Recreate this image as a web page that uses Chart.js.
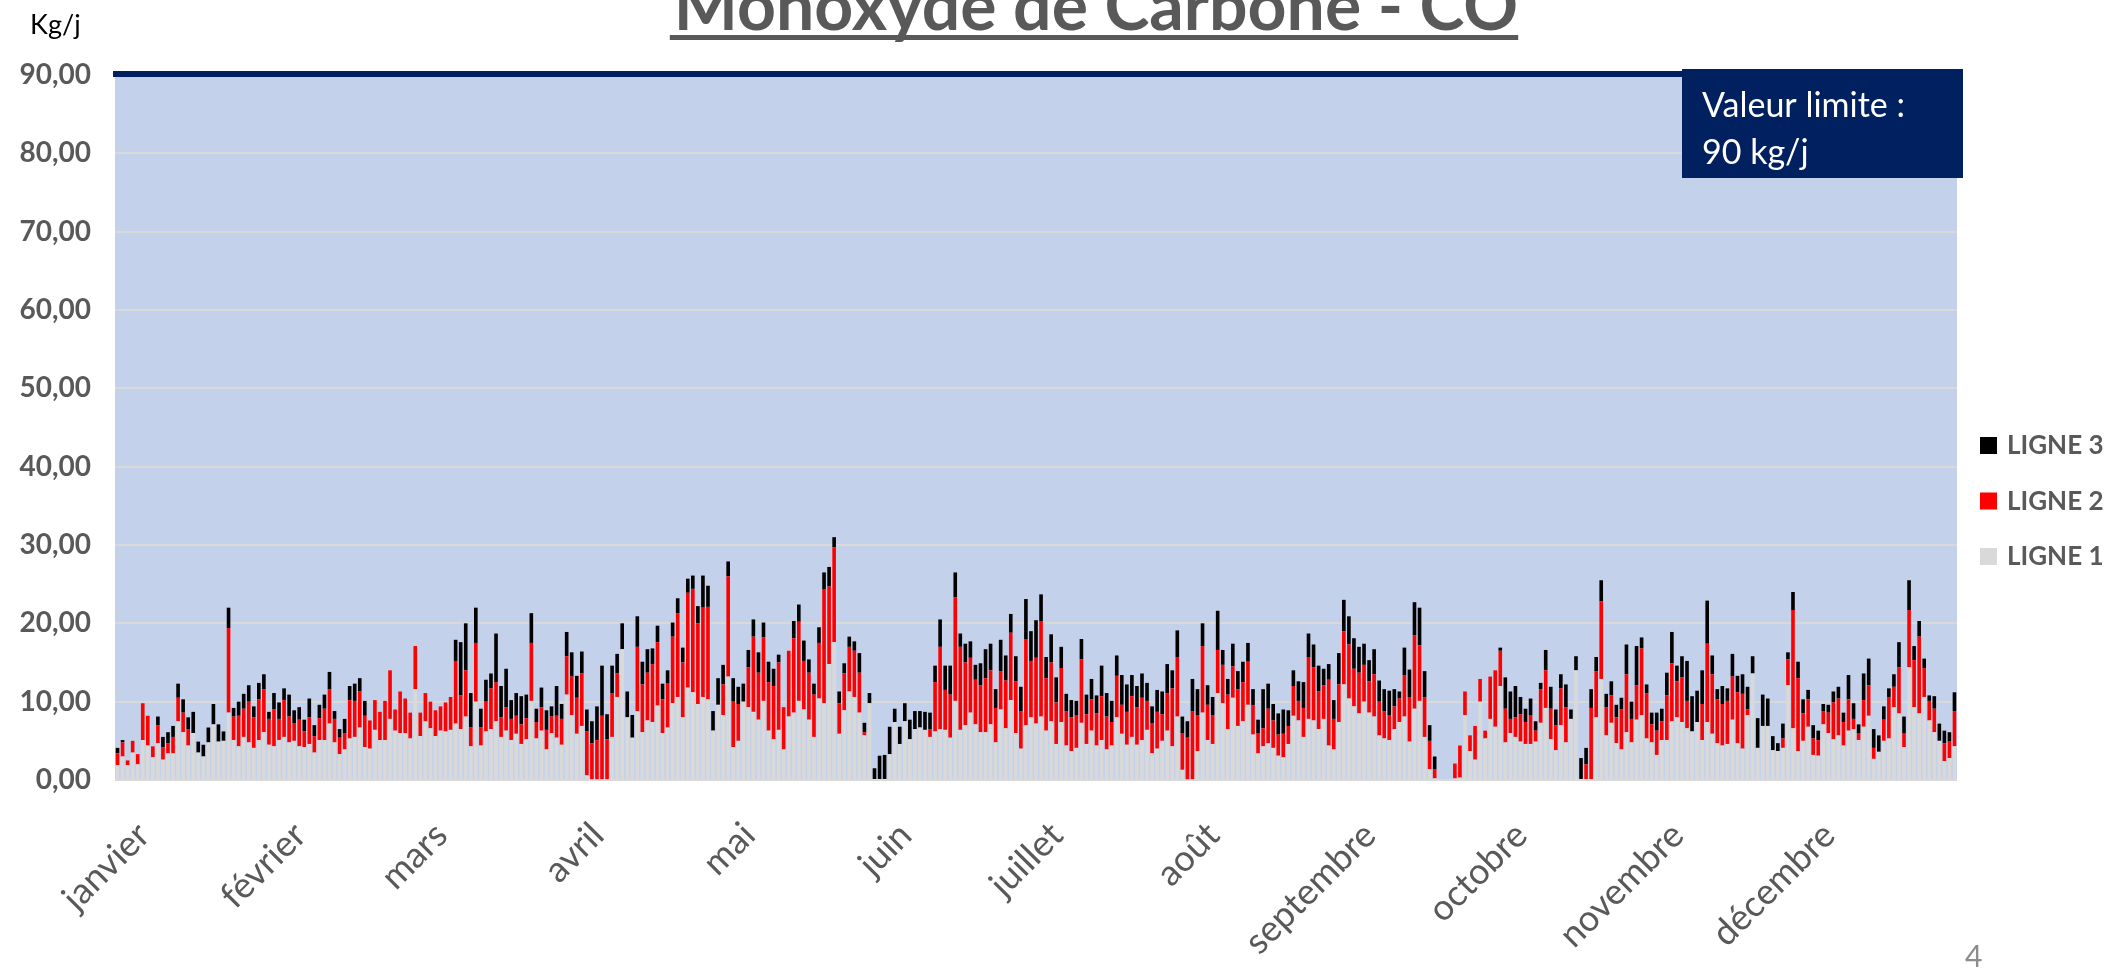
<!DOCTYPE html>
<html>
<head>
<meta charset="utf-8">
<title>Monoxyde de Carbone - CO</title>
<script src="https://cdn.jsdelivr.net/npm/chart.js@4.4.1/dist/chart.umd.min.js"></script>
<style>
    html, body { margin: 0; padding: 0; background: #ffffff; }
    #wrap { position: relative; width: 2126px; height: 973px; }
</style>
</head>
<body>
<div id="wrap"><canvas id="co_chart" width="2126" height="973"></canvas></div>
<script>
var chartTitle = 'Monoxyde de Carbone - CO';
var unitLabel = 'Kg/j';
var limitValue = 90;
var limitText = ['Valeur limite :', '90 kg/j'];
var pageNumber = '4';

var monthNames = ['janvier', 'février', 'mars', 'avril', 'mai', 'juin', 'juillet', 'août', 'septembre', 'octobre', 'novembre', 'décembre'];
var monthDays = [31, 28, 31, 30, 31, 30, 31, 31, 30, 31, 30, 31];

var seriesNames = ['LIGNE 1', 'LIGNE 2', 'LIGNE 3'];
var seriesColors = ['#D9D9D9', '#FF0000', '#000000'];

// kg/j par jour
var ligne1 = [
    1.9, 3.0, 1.9, 3.5, 2.0, 5.1, 4.4, 2.9, 4.7, 2.6,
    3.4, 3.4, 7.5, 6.1, 4.4, 6.0, 3.5, 3.0, 4.8, 7.1,
    4.9, 5.0, 8.6, 5.1, 4.3, 5.5, 4.8, 4.1, 5.1, 6.1,
    4.5, 4.3, 5.1, 5.5, 4.8, 5.0, 4.3, 4.2, 4.6, 3.5,
    5.1, 5.1, 7.2, 4.8, 3.3, 3.9, 5.3, 5.5, 6.7, 4.2,
    4.0, 6.4, 5.1, 5.1, 7.8, 6.3, 6.0, 6.0, 5.3, 11.6,
    5.6, 7.5, 6.6, 5.6, 6.3, 6.2, 6.4, 7.2, 6.5, 8.1,
    4.3, 10.0, 4.4, 6.2, 6.5, 7.5, 5.5, 6.3, 5.1, 5.9,
    4.6, 5.2, 10.1, 5.3, 6.3, 3.9, 6.0, 5.4, 4.5, 10.9,
    8.3, 5.9, 6.9, 0.6, 0.1, 0.1, 0.1, 0.1, 5.5, 10.6,
    16.7, 8.0, 5.4, 8.8, 6.1, 7.6, 7.4, 9.5, 6.0, 6.7,
    9.8, 10.6, 8.0, 11.8, 11.2, 9.7, 10.6, 10.3, 6.3, 9.6,
    8.3, 13.2, 4.2, 5.0, 10.0, 9.3, 8.7, 7.7, 10.1, 6.3,
    5.2, 6.4, 3.9, 8.1, 8.6, 10.1, 9.0, 7.7, 5.5, 10.4,
    9.8, 14.8, 17.6, 5.9, 8.9, 11.3, 10.6, 8.6, 5.7, 9.8,
    0, 0, 0, 3.3, 7.4, 4.6, 7.5, 5.2, 6.5, 6.7,
    6.4, 5.5, 6.2, 6.5, 6.4, 5.4, 10.1, 6.4, 7.0, 8.6,
    7.1, 6.1, 6.1, 7.1, 4.8, 9.0, 6.6, 10.2, 6.0, 4.0,
    7.0, 8.0, 7.2, 8.1, 6.3, 7.5, 4.6, 7.4, 4.4, 3.7,
    4.1, 7.3, 4.6, 6.3, 4.4, 5.1, 3.9, 4.4, 8.0, 5.9,
    4.5, 5.5, 4.5, 5.1, 6.4, 3.4, 4.0, 5.0, 6.3, 4.3,
    8.1, 1.3, 0.1, 0.1, 3.7, 8.6, 5.1, 4.6, 11.1, 9.8,
    6.5, 10.5, 6.9, 7.5, 9.6, 5.8, 3.4, 4.3, 4.7, 4.1,
    3.1, 2.9, 4.6, 8.2, 7.6, 5.5, 7.8, 7.6, 6.5, 7.8,
    4.4, 3.9, 7.4, 12.2, 10.4, 9.4, 8.5, 10.0, 8.6, 8.1,
    5.7, 5.3, 5.1, 6.5, 7.4, 8.1, 4.9, 9.1, 10.1, 5.5,
    1.4, 0.2, 0, 0, 0, 0.2, 0.3, 8.3, 3.7, 2.6,
    10.0, 5.3, 7.8, 6.8, 12.0, 4.8, 6.0, 5.5, 4.9, 4.6,
    4.6, 4.9, 7.3, 9.2, 5.2, 3.8, 7.0, 4.8, 7.8, 14.0,
    0, 0, 0, 8.0, 12.9, 5.7, 7.3, 4.7, 3.9, 6.1,
    4.8, 7.7, 8.3, 5.3, 4.8, 3.2, 5.1, 5.1, 7.5, 8.0,
    7.4, 6.6, 6.2, 7.4, 5.1, 7.4, 5.9, 4.7, 4.4, 4.6,
    7.7, 4.7, 4.0, 8.3, 13.6, 4.1, 6.9, 6.9, 3.8, 3.7,
    4.1, 12.1, 6.6, 3.7, 5.0, 6.8, 3.2, 3.1, 7.1, 6.0,
    5.2, 5.7, 4.4, 6.3, 6.5, 5.1, 6.8, 8.2, 2.7, 3.6,
    5.0, 5.3, 9.3, 8.5, 4.2, 14.4, 9.3, 8.5, 10.6, 7.6,
    6.1, 5.0, 2.4, 2.8, 4.3
];

var ligne2 = [
    1.5, 1.8, 0.6, 1.5, 1.3, 4.7, 3.8, 1.4, 2.3, 1.6,
    1.3, 2.1, 3.0, 2.5, 2.1, 0, 0, 0, 0, 0,
    0, 0, 10.8, 3.0, 3.9, 3.6, 5.2, 3.9, 5.2, 5.5,
    3.3, 4.7, 2.7, 4.7, 3.3, 2.2, 3.4, 2.0, 3.4, 2.1,
    2.8, 4.0, 4.4, 3.0, 2.1, 2.1, 4.9, 4.6, 4.6, 4.0,
    3.6, 3.8, 3.6, 5.0, 6.2, 2.7, 5.3, 4.4, 3.3, 5.5,
    3.0, 3.6, 3.4, 3.3, 3.1, 3.7, 4.2, 8.0, 4.3, 5.9,
    2.4, 7.5, 2.3, 3.8, 5.2, 5.0, 2.5, 3.0, 2.7, 2.3,
    2.5, 2.7, 7.4, 2.1, 3.0, 2.5, 2.1, 2.8, 3.3, 4.9,
    4.9, 4.6, 6.7, 5.6, 4.6, 5.0, 8.1, 5.1, 5.6, 3.0,
    0, 0, 0, 8.2, 6.1, 6.1, 7.4, 8.1, 4.3, 5.6,
    8.5, 10.7, 7.0, 12.1, 13.2, 10.3, 11.4, 11.8, 0, 0,
    3.9, 12.8, 5.8, 4.7, 0, 5.1, 9.6, 6.0, 8.1, 6.2,
    6.8, 8.6, 5.4, 8.4, 9.5, 10.1, 6.2, 6.0, 5.4, 7.1,
    14.5, 9.9, 12.1, 3.9, 4.7, 5.7, 5.9, 5.1, 0.4, 0,
    0, 0, 0, 0, 0, 0, 0, 0, 0, 0,
    0, 1.0, 6.3, 10.5, 5.1, 5.5, 13.2, 10.6, 8.0, 7.0,
    5.7, 6.0, 6.9, 6.9, 4.4, 4.9, 6.1, 8.6, 6.6, 4.8,
    11.0, 7.2, 8.4, 12.2, 6.7, 7.5, 5.3, 6.9, 4.4, 4.3,
    4.2, 8.1, 3.8, 4.0, 4.1, 5.6, 4.2, 3.0, 5.3, 3.7,
    4.2, 5.2, 4.8, 5.4, 3.7, 3.8, 4.7, 3.4, 4.8, 7.4,
    7.6, 4.7, 5.3, 8.7, 4.6, 8.5, 4.5, 3.7, 5.5, 4.9,
    4.4, 4.0, 4.7, 5.0, 5.5, 3.7, 2.6, 2.3, 4.4, 3.5,
    2.7, 3.0, 2.3, 3.8, 2.5, 3.7, 7.9, 6.8, 4.8, 4.3,
    8.4, 3.9, 4.8, 6.8, 6.9, 4.8, 5.2, 4.7, 4.0, 5.4,
    4.3, 3.5, 3.2, 2.9, 3.0, 5.3, 5.7, 9.4, 7.1, 5.1,
    3.6, 1.2, 0, 0, 0, 1.9, 4.1, 3.0, 2.0, 4.3,
    2.9, 1.0, 5.4, 7.2, 4.5, 4.3, 1.8, 2.5, 3.5, 2.8,
    3.7, 1.4, 4.3, 4.8, 3.9, 3.2, 4.7, 4.5, 0, 0,
    0, 2.0, 9.2, 5.9, 9.9, 3.6, 3.5, 3.3, 5.1, 7.4,
    3.0, 4.4, 8.5, 5.8, 2.3, 3.1, 2.4, 5.7, 7.4, 4.6,
    5.7, 3.5, 0, 0, 4.6, 10.0, 7.6, 5.6, 5.3, 5.5,
    5.5, 6.5, 7.0, 0.7, 0, 0, 0, 0, 0, 0,
    1.2, 3.3, 15.1, 9.3, 3.5, 3.5, 2.1, 2.0, 1.7, 2.6,
    4.7, 4.7, 3.0, 4.0, 1.3, 0.9, 3.4, 3.9, 1.4, 0,
    2.7, 5.3, 2.6, 5.9, 1.8, 7.3, 6.0, 9.8, 3.7, 2.5,
    3.0, 0, 2.3, 2.1, 4.5
];

var ligne3 = [
    0.7, 0.3, 0, 0, 0, 0, 0, 0, 1.1, 1.3,
    1.4, 1.4, 1.8, 1.7, 1.5, 2.7, 1.4, 1.5, 1.9, 2.6,
    2.2, 1.2, 2.6, 1.1, 1.8, 1.9, 2.1, 1.4, 2.1, 1.9,
    0.9, 2.1, 2.1, 1.5, 2.8, 1.7, 1.6, 1.5, 2.4, 1.4,
    1.7, 1.8, 2.2, 1.0, 1.1, 1.8, 1.8, 2.2, 1.7, 1.9,
    0, 0, 0, 0, 0, 0, 0, 0, 0, 0,
    0, 0, 0, 0, 0, 0, 0, 2.7, 6.8, 6.0,
    4.4, 4.5, 2.4, 2.8, 1.9, 6.2, 4.0, 4.9, 2.4, 2.9,
    3.6, 3.0, 3.8, 1.7, 2.5, 2.5, 1.3, 3.8, 1.9, 3.1,
    3.1, 2.8, 2.8, 2.8, 2.8, 4.3, 6.4, 3.2, 3.5, 2.5,
    3.3, 3.3, 2.9, 3.9, 2.9, 3.0, 2.0, 2.1, 2.0, 1.7,
    1.8, 1.9, 1.9, 1.8, 1.7, 2.2, 4.1, 2.7, 2.5, 3.4,
    2.5, 1.9, 3.0, 2.2, 2.3, 2.2, 2.2, 2.6, 1.9, 2.6,
    2.2, 1.0, 0, 0, 2.2, 2.2, 2.6, 1.7, 1.4, 2.0,
    2.2, 2.5, 1.3, 1.5, 1.3, 1.3, 1.2, 2.5, 1.2, 1.3,
    1.5, 3.1, 3.2, 3.5, 1.7, 2.2, 2.3, 2.5, 2.3, 2.1,
    2.3, 2.1, 2.1, 3.5, 3.1, 3.7, 3.2, 1.7, 2.4, 2.1,
    1.9, 2.8, 3.7, 3.4, 2.4, 4.0, 3.2, 2.4, 3.2, 3.1,
    5.1, 3.8, 4.8, 3.4, 2.7, 3.6, 3.2, 2.7, 2.2, 2.2,
    1.8, 2.6, 2.5, 2.6, 2.3, 3.9, 3.0, 2.7, 2.6, 3.8,
    3.5, 2.7, 2.7, 3.1, 2.3, 2.2, 2.8, 2.9, 3.7, 2.3,
    3.4, 2.1, 2.1, 4.1, 3.3, 2.9, 2.5, 2.3, 5.0, 1.9,
    2.0, 2.9, 2.3, 2.6, 2.4, 2.1, 1.7, 5.0, 3.2, 2.1,
    2.7, 3.1, 2.0, 2.0, 2.5, 3.3, 3.0, 2.9, 3.3, 2.1,
    2.0, 2.4, 4.0, 4.0, 3.6, 3.9, 3.3, 2.7, 2.7, 3.2,
    2.7, 2.8, 3.1, 2.2, 0.9, 3.5, 3.5, 4.2, 4.8, 3.3,
    2.0, 1.6, 0, 0, 0, 0, 0, 0, 0, 0,
    0, 0, 0, 0, 0.4, 4.0, 3.5, 4.0, 2.2, 1.7,
    2.1, 1.2, 0.8, 2.6, 2.8, 2.0, 1.8, 2.9, 1.2, 1.8,
    2.8, 2.1, 2.4, 1.8, 2.7, 1.7, 1.8, 1.6, 1.5, 3.8,
    2.2, 5.0, 1.4, 1.1, 1.5, 2.3, 1.6, 2.9, 4.0, 2.0,
    2.7, 5.1, 4.5, 4.0, 4.3, 5.5, 2.4, 1.3, 2.3, 1.6,
    2.9, 2.1, 2.5, 2.9, 2.2, 3.8, 4.0, 3.5, 1.8, 1.0,
    1.9, 0.9, 2.3, 2.1, 1.8, 1.2, 1.7, 1.2, 0.9, 1.0,
    1.4, 1.5, 1.2, 3.1, 2.0, 1.1, 3.4, 3.4, 2.4, 2.1,
    1.7, 1.1, 1.6, 3.2, 2.1, 3.8, 1.8, 2.0, 1.2, 0.7,
    1.6, 2.2, 1.6, 1.2, 2.4
];

var dayLabels = [];
var tickText = [];
monthNames.forEach(function (name, m)
{
    for (var d = 1; d <= monthDays[m]; d++)
    {
        dayLabels.push(d + ' ' + name);
        tickText.push(d === 1 ? name : '');
    }
});

var grey_text = '#595959';
var navy = '#002060';

var decor = {
    id: 'decor',
    beforeDraw: function (chart)
    {
        var ctx = chart.ctx, a = chart.chartArea;
        ctx.save();
        ctx.fillStyle = '#C3D1EB';
        ctx.fillRect(a.left, a.top, a.right - a.left, a.bottom - a.top);
        ctx.restore();
    },
    afterDraw: function (chart)
    {
        var ctx = chart.ctx, a = chart.chartArea;
        var yLim = chart.scales.y.getPixelForValue(limitValue);
        ctx.save();

        // ligne de la valeur limite
        ctx.fillStyle = navy;
        ctx.fillRect(a.left - 2, yLim - 4, a.right - a.left + 2, 6);

        // cartouche
        var bx = a.right - 275, by = yLim - 6;
        ctx.fillRect(bx, by, 281, 109);
        ctx.fillStyle = '#ffffff';
        ctx.font = '34px Lato';
        ctx.textAlign = 'left';
        ctx.textBaseline = 'alphabetic';
        ctx.fillText(limitText[0], bx + 20, by + 48);
        ctx.fillText(limitText[1], bx + 20, by + 95);

        // légende
        ctx.font = 'bold 26px Lato';
        ctx.textBaseline = 'middle';
        for (var i = 0; i < 3; i++)
        {
            var k = 2 - i;
            var cy = 446 + i * 55.5;
            ctx.fillStyle = seriesColors[k];
            ctx.fillRect(a.right + 23, cy - 9, 17, 17);
            ctx.fillStyle = grey_text;
            ctx.fillText(seriesNames[k], a.right + 50, cy);
        }

        // titre coupé en haut
        ctx.font = 'bold 66px Lato';
        var w = ctx.measureText(chartTitle).width;
        var size = 66 * 845 / w;
        ctx.font = 'bold ' + size.toFixed(1) + 'px Lato';
        w = ctx.measureText(chartTitle).width;
        var tx = 1096 - w / 2;
        ctx.fillStyle = grey_text;
        ctx.textBaseline = 'alphabetic';
        ctx.fillText(chartTitle, tx, 30);
        ctx.fillRect(tx - 4, 35, w + 4, 5);

        // unité
        ctx.fillStyle = '#000000';
        ctx.font = '27px Lato';
        ctx.fillText(unitLabel, 30, 34);

        // numéro de page
        ctx.fillStyle = '#8C8C8C';
        ctx.font = '30px Lato';
        ctx.fillText(pageNumber, 1965, 967);
        ctx.restore();
    }
};

function create_chart()
{
    new Chart(document.getElementById('co_chart'),
        {
            type: 'bar',
            data:
            {
                labels: dayLabels,
                datasets: [ligne1, ligne2, ligne3].map(function (values, i)
                {
                    return {
                        label: seriesNames[i],
                        data: values,
                        backgroundColor: seriesColors[i],
                        borderWidth: 0,
                        barPercentage: 0.72,
                        categoryPercentage: 1.0
                    };
                })
            },
            options:
            {
                responsive: false,
                animation: false,
                devicePixelRatio: 1,
                layout: { padding: { top: 75, right: 169, left: 0, bottom: 0 } },
                plugins:
                {
                    legend: { display: false },
                    tooltip: { enabled: false },
                    title: { display: false }
                },
                scales:
                {
                    x:
                    {
                        stacked: true,
                        grid: { display: false, drawTicks: false },
                        border: { display: false },
                        ticks:
                        {
                            autoSkip: false,
                            minRotation: 45,
                            maxRotation: 45,
                            padding: 34,
                            labelOffset: 26,
                            color: grey_text,
                            font: { family: 'Lato', size: 36 },
                            callback: function (value, index) { return tickText[index]; }
                        },
                        afterFit: function (scale) { scale.height = 193; }
                    },
                    y:
                    {
                        stacked: true,
                        min: 0,
                        max: 90,
                        grid: { color: '#D9D9D9', lineWidth: 2, drawTicks: false },
                        border: { display: false },
                        ticks:
                        {
                            stepSize: 10,
                            padding: 24,
                            color: grey_text,
                            font: { family: 'Lato', size: 28, weight: 'bold' },
                            callback: function (v) { return v.toFixed(2).replace('.', ','); }
                        },
                        afterFit: function (scale) { scale.width = 115; }
                    }
                }
            },
            plugins: [decor]
        });
}

create_chart();
</script>
</body>
</html>
